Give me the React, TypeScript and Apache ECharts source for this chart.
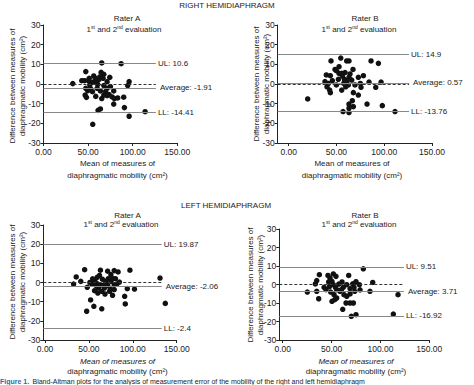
import React, { useEffect, useRef } from "react";
import * as echarts from "echarts";

const FONT = "Liberation Sans";
const TXT = "#222";

// Panel 1: Right hemidiaphragm, Rater A
const rightA: number[][] = [[65.3,10.7],[87,10.3],[47.4,6.3],[32.8,0.2],[42.9,1.7],[45.9,1.7],[50.4,1.7],[56.3,4.1],[58.2,2.9],[54.9,0.9],[64.6,5.9],[67.6,4.9],[74.3,3.4],[61.9,2.2],[60.8,-0.2],[67.6,-0.8],[71.3,1.2],[75,-1.3],[47.4,-2.2],[49.6,-3.4],[46.7,-5.6],[48.1,-6.8],[58.6,-6.3],[52.6,-2.2],[65.3,-7.4],[73.5,-5.4],[76.9,-6.6],[79.5,-7.4],[83.2,-7.1],[89.9,-6.7],[78.7,-10.2],[63.8,-12.7],[61.2,-13.4],[90.7,-12],[96,1.2],[94.4,-0.8],[96,-16.4],[113.9,-14.1],[55.2,-20.5],[60.1,-2.2],[63.8,-3.5],[69.6,-3.9],[67.6,-5.6],[71.3,-2.2],[78.7,-3.5],[54.9,-3.9],[51.9,-0.4],[63.1,3.6],[57.9,1.2],[51.2,2.9],[66.8,2.9],[71.3,-5.9]];
// Panel 2: Right hemidiaphragm, Rater B
const rightB: number[][] = [[54.5,13.2],[44.3,11.7],[60.7,11.7],[63.1,11.7],[86.2,11.7],[93.9,10.5],[52.7,8.8],[48.5,7.4],[67.3,7.4],[39.4,4.6],[43.6,4.2],[55.5,5.4],[59,5.8],[64.2,5.1],[72.9,3.4],[78.2,4.2],[38,1.2],[41.5,0.3],[49.9,-0.5],[57.6,0.3],[62.4,-0.5],[75,0.3],[84.1,1],[91.1,-1.7],[96.7,1],[40.1,-1.4],[42.9,-3.1],[43.6,-4.4],[55.5,-3.1],[67.7,-4.4],[72.9,-5.6],[19.9,-7.6],[66.6,-8.5],[63.1,-10.2],[67.7,-11.5],[63.1,-12.3],[56.9,-14],[63.1,-14.5],[82,-10.2],[98,-11],[111.3,-14],[52,2.4],[58.3,2.4],[61.1,1.7],[56.2,4],[49.9,6.8],[63.1,3.4],[69.4,-0.5],[75.7,-1.7],[45.7,1.7],[52.7,5.4],[59.7,-1.4],[66,2]];
// Panel 3: Left hemidiaphragm, Rater A
const leftA: number[][] = [[45.1,6.7],[63.1,6.4],[78.8,6.2],[96.7,6.4],[131,2.3],[35.5,2.9],[40.7,0.6],[32.5,-0.8],[48.1,-2.5],[51.1,0],[56.4,0.9],[59.3,2.7],[62,3.7],[65.3,1.7],[71.3,5.9],[75,4.1],[83.2,5.5],[80.2,2],[84.7,0.2],[57.8,-1.5],[56.4,-4.3],[60.1,-5.5],[67.6,-2.9],[64.6,-4.6],[71.3,-1.5],[74.3,-3.2],[78.8,-3.7],[76.9,-6.7],[93.7,-3.2],[101.9,-3.4],[90.7,-7.2],[91.4,-11.2],[51.9,-9.1],[55.6,-12.4],[64.6,-13.7],[47.4,-15],[137,-10.9],[54.2,1.9],[58.6,-0.3],[63.1,-1.2],[66.1,-1.5],[69.1,0.6],[72.1,2],[75,0.6],[78.8,-1.2],[68.3,-6],[73.5,-4.6],[60.8,-2.9],[77.3,2],[81.7,-0.8],[53.4,-0.8]];
// Panel 4: Left hemidiaphragm, Rater B
const leftB: number[][] = [[82.5,8.5],[37.5,5.3],[46.3,4.9],[51.8,5.7],[54.5,4.4],[67.5,4.9],[34.8,2.1],[33.4,0.3],[25.2,-4.1],[34.8,-3.7],[36.8,-7.7],[42.3,-1.5],[44.3,-2.8],[50.4,1.7],[51.8,-0.1],[53.9,-1.5],[49.1,-4.1],[52.5,-5.5],[50.4,-9.1],[55.2,-7.3],[53.2,-8.2],[58.6,-3.7],[62,-1.5],[65.5,-0.1],[68.9,-2.2],[71.6,0.4],[75,1.5],[78.4,-0.1],[73.7,-3.7],[68.9,-5.1],[65.5,-6.4],[64.8,-10],[68.9,-10],[72.3,-10],[61.4,-13.4],[70.2,-17.2],[75,-16.3],[89.3,-3.7],[92.1,1.1],[118,-5.5],[113.2,-16],[47,1.4],[48.4,3.5],[57.3,0.2],[60,-2.8],[55.2,-2.8],[62.7,-5.5],[79.1,-2.9],[60.7,1.4],[47.7,-1.2],[73,-1.5]];

// Limits: [UL, Average, LL] line positions and their printed labels
const limitValues: number[][] = [[10.6,-1.91,-14.41],[14.9,0.57,-13.76],[19.87,-2.06,-24.0],[9.51,-3.71,-16.92]];
const limitLabels: string[][] = [
  ["UL: 10.6","Average: -1.91","LL: -14.41"],
  ["UL: 14.9","Average: 0.57","LL: -13.76"],
  ["UL: 19.87","Average: -2.06","LL: -2.4"],
  ["UL: 9.51","Average: 3.71","LL: -16.92"],
];
const lineEnds: number[] = [126, 126, 133, 124];
const xMins: number[] = [0, -11.5, -2, -3.5];
const xTicks: number[] = [0, 50, 100, 150];
const raters: string[] = ["Rater A","Rater B","Rater A","Rater B"];
const sections: string[] = ["RIGHT HEMIDIAPHRAGM","LEFT HEMIDIAPHRAGM"];
const datasets = [rightA, rightB, leftA, leftB];

// layout (px)
const grids = [
  { left: 43.5, top: 25, width: 133.8, height: 118 },
  { left: 277.7, top: 25, width: 154.3, height: 118 },
  { left: 43.3, top: 225, width: 133.4, height: 115 },
  { left: 279.3, top: 229, width: 150, height: 111 },
];
const headPos = [
  { rx: 127, ry: 18, sx: 124, sy: 29.5 },
  { rx: 365, ry: 18.5, sx: 359, sy: 29.5 },
  { rx: 127.5, ry: 215, sx: 121, sy: 224.5 },
  { rx: 365, ry: 215, sx: 359, sy: 224.5 },
];
const yTitlePos = [
  { x1: 12.7, x2: 22.7, y: 86 },
  { x1: 256.3, x2: 266.3, y: 84 },
  { x1: 12.7, x2: 22.7, y: 282 },
  { x1: 250.3, x2: 260.3, y: 285 },
];
const xTitlePos = [
  { x: 117.5, y1: 163.5, y2: 175.5, italic: false },
  { x: 352, y1: 163.5, y2: 175.5, italic: false },
  { x: 117.5, y1: 361, y2: 371.5, italic: true },
  { x: 356, y1: 361, y2: 371.5, italic: true },
];

export default function App() {
  const ref = useRef<HTMLDivElement>(null);
  useEffect(() => {
    if (!ref.current) return;
    const chart = echarts.init(ref.current, null, { renderer: "svg" });
    const textStyle = { fontFamily: FONT, fontSize: 8, color: TXT };

    const series: any[] = [];
    datasets.forEach((d, i) => {
      const [ul, avg, ll] = limitValues[i];
      const xm = xMins[i];
      const xe = lineEnds[i];
      series.push({
        type: "scatter",
        xAxisIndex: i,
        yAxisIndex: i,
        data: d,
        symbolSize: 5.5,
        itemStyle: { color: "#111", opacity: 1 },
        silent: true,
        markLine: {
          silent: true,
          symbol: "none",
          animation: false,
          data: [
            [
              { coord: [xm, 0], lineStyle: { color: "#333", type: [3, 2], width: 1 }, label: { show: false } },
              { coord: [xe, 0] },
            ],
            [
              { coord: [xm, ul], lineStyle: { color: "#888", type: "solid", width: 1 }, label: { show: true, formatter: limitLabels[i][0] } },
              { coord: [xe, ul] },
            ],
            [
              { coord: [xm, avg], lineStyle: { color: "#888", type: "solid", width: 1 }, label: { show: true, formatter: limitLabels[i][1], distance: 4 } },
              { coord: [xe, avg] },
            ],
            [
              { coord: [xm, ll], lineStyle: { color: "#888", type: "solid", width: 1 }, label: { show: true, formatter: limitLabels[i][2] } },
              { coord: [xe, ll] },
            ],
          ],
          label: { position: "end", distance: 2, ...textStyle },
        },
      });
    });

    const graphic: any[] = [];
    graphic.push({ type: "text", x: 227, y: 5, style: { text: sections[0], font: `8px "${FONT}"`, fill: TXT, align: "center", verticalAlign: "middle" } });
    graphic.push({ type: "text", x: 226, y: 205, style: { text: sections[1], font: `8px "${FONT}"`, fill: TXT, align: "center", verticalAlign: "middle" } });
    headPos.forEach((p, i) => {
      graphic.push({ type: "text", x: p.rx, y: p.ry, style: { text: raters[i], font: `8px "${FONT}"`, fill: TXT, align: "center", verticalAlign: "middle" } });
      graphic.push({
        type: "text", x: p.sx, y: p.sy,
        style: {
          text: "{n|1}{s|st}{n| and 2}{s|nd}{n| evaluation}",
          align: "center", verticalAlign: "middle",
          rich: {
            n: { fontFamily: FONT, fontSize: 8, fill: TXT, lineHeight: 10 },
            s: { fontFamily: FONT, fontSize: 5, fill: TXT, verticalAlign: "top", lineHeight: 6 },
          },
        },
      });
    });
    yTitlePos.forEach((p) => {
      graphic.push({ type: "text", x: p.x1, y: p.y, rotation: Math.PI / 2, style: { text: "Difference between measures of", font: `8px "${FONT}"`, fill: TXT, align: "center", verticalAlign: "middle" } });
      graphic.push({ type: "text", x: p.x2, y: p.y, rotation: Math.PI / 2, style: { text: "diaphragmatic mobility (cm\u00B2)", font: `8px "${FONT}"`, fill: TXT, align: "center", verticalAlign: "middle" } });
    });
    xTitlePos.forEach((p) => {
      graphic.push({ type: "text", x: p.x, y: p.y1, style: { text: "Mean of measures of", font: `${p.italic ? "italic " : ""}8px "${FONT}"`, fill: TXT, align: "center", verticalAlign: "middle" } });
      graphic.push({ type: "text", x: p.x, y: p.y2, style: { text: "diaphragmatic mobility (cm\u00B2)", font: `8px "${FONT}"`, fill: TXT, align: "center", verticalAlign: "middle" } });
    });
    graphic.push({
      type: "text", x: 0, y: 381.5,
      style: {
        text: "{b|Figure 1.} {n|Bland-Altman plots for the analysis of measurement error of the mobility of the right and left hemidiaphragm}",
        verticalAlign: "middle",
        rich: {
          b: { fontFamily: FONT, fontSize: 7, fontWeight: "bold", fill: "#2a6ab0" },
          n: { fontFamily: FONT, fontSize: 7, fill: TXT },
        },
      },
    });

    chart.setOption({
      animation: false,
      backgroundColor: "#fff",
      grid: grids.map((g) => ({ ...g, containLabel: false, outerBoundsMode: "none" })),
      xAxis: grids.map((_, i) => ({
        type: "value",
        gridIndex: i,
        min: xMins[i],
        max: 150,
        splitLine: { show: false },
        axisLine: { show: true, onZero: false, lineStyle: { color: "#222", width: 1 } },
        axisTick: { show: true, length: 3, customValues: xTicks, lineStyle: { color: "#222" } },
        axisLabel: { customValues: xTicks, formatter: (v: number) => v.toFixed(2), margin: 4, ...textStyle, fontSize: 8.5 },
      })),
      yAxis: grids.map((_, i) => ({
        type: "value",
        gridIndex: i,
        min: -30,
        max: 30,
        interval: 10,
        splitLine: { show: false },
        axisLine: { show: true, onZero: false, lineStyle: { color: "#222", width: 1 } },
        axisTick: { show: true, length: 3, lineStyle: { color: "#222" } },
        axisLabel: { margin: 3, ...textStyle, fontSize: 8.5 },
      })),
      series,
      graphic,
    });
    return () => chart.dispose();
  }, []);
  return (
    <div
      ref={ref}
      style={{ position: "fixed", left: 0, top: 0, width: 474, height: 385, background: "#fff" }}
    />
  );
}
